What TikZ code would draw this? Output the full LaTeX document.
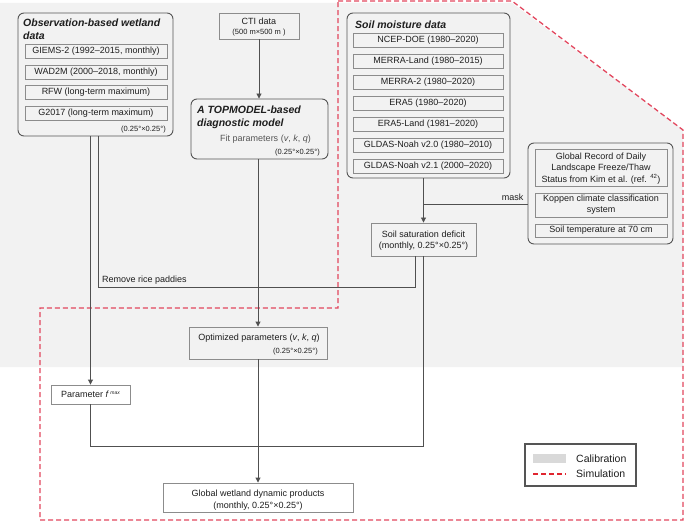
\documentclass[tikz,border=0pt]{standalone}
\usepackage{fontspec}
\setmainfont{Liberation Sans}
\usetikzlibrary{arrows.meta}
\definecolor{bg}{HTML}{F2F2F2}
\definecolor{tc}{HTML}{1E1E1E}
\definecolor{ib}{HTML}{8C8C8C}
\definecolor{gb}{HTML}{555555}
\definecolor{lc}{HTML}{505050}
\definecolor{simc}{HTML}{E2475E}
\definecolor{legred}{HTML}{E0252F}
\definecolor{swatch}{HTML}{D9D9D9}
\tikzset{
 txt/.style={font=\fontsize{9}{11}\selectfont, text=tc, inner sep=0pt},
 sml/.style={font=\fontsize{7.5}{9}\selectfont, text=tc, inner sep=0pt},
 ttl/.style={font=\fontsize{10.5}{13}\selectfont\bfseries\itshape, text=tc, inner sep=0pt},
 ibox/.style={draw=ib, line width=0.9pt, fill=bg, inner sep=0pt, txt},
 wbox/.style={draw=ib, line width=0.9pt, fill=white, inner sep=0pt, txt},
 grp/.style={draw=gb, line width=0.9pt, rounded corners=6pt, fill=bg, inner sep=0pt},
 conn/.style={draw=lc, line width=0.9pt},
 arr/.style={conn, -{Triangle[width=5pt,length=5pt]}},
 simframe/.style={draw=simc, line width=1.3pt, dash pattern=on 5pt off 3pt},
}
\begin{document}
\begin{tikzpicture}[x=1pt,y=-1pt]
\useasboundingbox (0,0) rectangle (685,521);
% calibration area
\fill[bg] (0,3) -- (512,3) -- (683,130) -- (683,367) -- (0,367) -- cycle;
% simulation frame
\draw[simframe] (338,1) -- (512,1) -- (683,130) -- (683,520) -- (40,520) -- (40,308) -- (338,308) -- cycle;

% observation-based wetland data
\node[grp, minimum width=155pt, minimum height=123pt] (obs) at (95.5,74.5) {};
\node[ttl, anchor=base west] (obsT1) at (23,26.7) {Observation-based wetland};
\node[ttl, anchor=base west] (obsT2) at (23,39.7) {data};
\node[ibox, minimum width=142pt, minimum height=14pt] (giems) at (96,51) {GIEMS-2 (1992–2015, monthly)};
\node[ibox, minimum width=142pt, minimum height=14pt] (wad) at (96,72) {WAD2M (2000–2018, monthly)};
\node[ibox, minimum width=142pt, minimum height=14pt] (rfw) at (96,92) {RFW (long-term maximum)};
\node[ibox, minimum width=142pt, minimum height=14pt] (gst) at (96,113.5) {G2017 (long-term maximum)};
\node[sml, anchor=east] (obsR) at (166,130) {(0.25°×0.25°)};

% CTI
\node[ibox, minimum width=80pt, minimum height=26pt] (cti) at (259,26) {};
\node[txt] (ctiT1) at (259,21) {CTI data};
\node[sml] (ctiT2) at (259,33) {(500 m×500 m )};

% TOPMODEL
\node[grp, minimum width=137pt, minimum height=60pt] (topm) at (259.5,129) {};
\node[ttl, anchor=base west] (topT1) at (197,113.8) {A TOPMODEL-based};
\node[ttl, anchor=base west] (topT2) at (197,126.8) {diagnostic model};
\node[txt, text=gb] (fit) at (265.5,139) {Fit parameters (\textit{v}, \textit{k}, \textit{q})};
\node[sml, anchor=east] (topR) at (320,153) {(0.25°×0.25°)};

% soil moisture data
\node[grp, minimum width=163pt, minimum height=165pt] (soil) at (428.5,95.5) {};
\node[ttl, anchor=base west] (soilT) at (355,28.7) {Soil moisture data};
\node[ibox, minimum width=150pt, minimum height=14pt] (s1) at (428,40) {NCEP-DOE (1980–2020)};
\node[ibox, minimum width=150pt, minimum height=14pt] (s2) at (428,61) {MERRA-Land (1980–2015)};
\node[ibox, minimum width=150pt, minimum height=14pt] (s3) at (428,82) {MERRA-2 (1980–2020)};
\node[ibox, minimum width=150pt, minimum height=14pt] (s4) at (428,103) {ERA5 (1980–2020)};
\node[ibox, minimum width=150pt, minimum height=14pt] (s5) at (428,124) {ERA5-Land (1981–2020)};
\node[ibox, minimum width=150pt, minimum height=14pt] (s6) at (428,145) {GLDAS-Noah v2.0 (1980–2010)};
\node[ibox, minimum width=150pt, minimum height=14pt] (s7) at (428,166) {GLDAS-Noah v2.1 (2000–2020)};

% mask group
\node[grp, minimum width=145pt, minimum height=101pt] (mgrp) at (600.5,193.5) {};
\node[ibox, minimum width=132pt, minimum height=37pt] (frz) at (601,167.5) {};
\node[txt] (frz1) at (601,157) {Global Record of Daily};
\node[txt] (frz2) at (601,168) {Landscape Freeze/Thaw};
\node[txt] (frz3) at (601,179) {Status from Kim et al. (ref. \textsuperscript{42})};
\node[ibox, minimum width=132pt, minimum height=24pt] (kop) at (601,205) {};
\node[txt] (kop1) at (601,199.5) {Koppen climate classification};
\node[txt] (kop2) at (601,210.5) {system};
\node[ibox, minimum width=132pt, minimum height=13pt] (stmp) at (601,230.5) {Soil temperature at 70 cm};

% soil saturation deficit
\node[ibox, minimum width=105pt, minimum height=33pt] (ssd) at (423.5,239.5) {};
\node[txt] (ssd1) at (423.5,234) {Soil saturation deficit};
\node[txt] (ssd2) at (423.5,246) {(monthly, 0.25°×0.25°)};

% optimized parameters
\node[ibox, minimum width=138pt, minimum height=32pt] (opt) at (258,343) {};
\node[txt] (optT) at (259,338) {Optimized parameters (\textit{v}, \textit{k}, \textit{q})};
\node[sml, anchor=east] (optR) at (318,352) {(0.25°×0.25°)};

% parameter fmax
\node[wbox, minimum width=79pt, minimum height=19pt] (fmax) at (90.5,394.5) {Parameter \textit{f}\,\raisebox{3pt}{\fontsize{5}{5}\selectfont\textit{max}}};

% global products
\node[wbox, minimum width=190pt, minimum height=29pt] (glob) at (258,497.5) {};
\node[txt] (glob1) at (258,494) {Global wetland dynamic products};
\node[txt] (glob2) at (258,506) {(monthly, 0.25°×0.25°)};

% connectors
\coordinate (maskJ) at (423.5,204);
\coordinate (riceL) at (98,287);
\coordinate (riceR) at (415,287);
\coordinate (botL) at (90.5,446);
\coordinate (botR) at (423.5,446);
\draw[arr] (cti.south) -- (cti.south |- topm.north);
\draw[arr] (opt.north |- topm.south) -- (opt.north);
\draw[arr] (opt.south) -- (glob.north);
\draw[arr] (fmax.north |- obs.south) -- (fmax.north);
\draw[conn] (riceL |- obs.south) -- (riceL) -- (riceR) -- (riceR |- ssd.south);
\node[txt, anchor=west] (riceT) at (102,280) {Remove rice paddies};
\draw[arr] (ssd.north |- soil.south) -- (ssd.north);
\draw[conn] (mgrp.west |- maskJ) -- (maskJ);
\node[txt] (maskT) at (512.5,197) {mask};
\draw[conn] (fmax.south) -- (botL) -- (botR) -- (ssd.south);

% legend
\node[draw=gb, line width=1.1pt, fill=white, minimum width=111pt, minimum height=42pt, inner sep=0pt] (leg) at (580.5,465) {};
\node[fill=swatch, minimum width=33pt, minimum height=9pt, inner sep=0pt] (legS) at (549.5,458.5) {};
\node[font=\fontsize{10.5}{12}\selectfont, text=tc, inner sep=0pt, anchor=west] (legC) at (576,459) {Calibration};
\coordinate (legA) at (533,474);
\coordinate (legB) at (566,474);
\draw[draw=legred, line width=1.3pt, dash pattern=on 5pt off 3pt] (legA) -- (legB);
\node[font=\fontsize{10.5}{12}\selectfont, text=tc, inner sep=0pt, anchor=west] (legM) at (576,474) {Simulation};
\end{tikzpicture}
\end{document}
